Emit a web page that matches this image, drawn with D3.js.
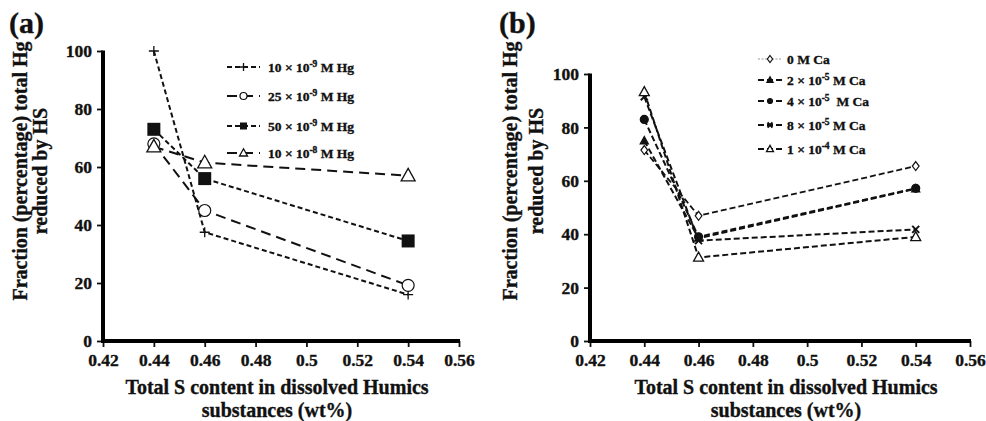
<!DOCTYPE html>
<html><head><meta charset="utf-8">
<script src="https://cdn.jsdelivr.net/npm/d3@7"></script>
<style>
body{margin:0;background:#fff;}
svg{display:block;font-family:"Liberation Serif","Times New Roman",serif;font-weight:bold;}
svg text{stroke:#111;stroke-width:0.35px;}
</style></head>
<body>
<svg id="chart" width="986" height="421"></svg>
<script>
// ---------- data ----------
const sContent = [0.44, 0.46, 0.54];
const xTicks = [0.42, 0.44, 0.46, 0.48, 0.50, 0.52, 0.54, 0.56];
const xTickLabels = ["0.42","0.44","0.46","0.48","0.5","0.52","0.54","0.56"];
const yTicks = [0, 20, 40, 60, 80, 100];

// panel (a): Hg concentrations
const hgLabels = [["10 × 10","-9"," M Hg"],["25 × 10","-9"," M Hg"],["50 × 10","-9"," M Hg"],["10 × 10","-8"," M Hg"]];
const hg10e9 = [100, 37.5, 16];
const hg25e9 = [68, 45, 19.2];
const hg50e9 = [73, 56, 34.5];
const hg10e8 = [67, 61.5, 57];

// panel (b): Ca concentrations
const caLabels = [["0 M Ca","",""],["2 × 10","-5"," M Ca"],["4 × 10","-5","  M Ca"],["8 × 10","-5"," M Ca"],["1 × 10","-4"," M Ca"]];
const ca0 = [71.5, 46.9, 65.5];
const ca2e5 = [75, 38.5, 57];
const ca4e5 = [83, 39, 57.2];
const ca8e5 = [91.5, 37.6, 41.8];
const ca1e4 = [93.3, 31.3, 39];

const svg = d3.select("#chart");

function drawMarker(g, m, cx, cy){
  const s = g.append("g").attr("transform", `translate(${cx},${cy})`);
  if(m.kind === "plus"){
    const r = m.r;
    s.append("path").attr("d",`M${-r},0H${r}M0,${-r}V${r}`).attr("stroke","#111").attr("stroke-width",1.3).attr("fill","none");
  } else if(m.kind === "cross"){
    const r = m.r;
    s.append("path").attr("d",`M${-r},${-r}L${r},${r}M${-r},${r}L${r},${-r}`).attr("stroke","#111").attr("stroke-width",2).attr("fill","none");
  } else if(m.kind === "circle"){
    s.append("circle").attr("r",m.r).attr("fill",m.fill).attr("stroke","#111").attr("stroke-width",1.2);
  } else if(m.kind === "square"){
    s.append("rect").attr("x",-m.r).attr("y",-m.r).attr("width",2*m.r).attr("height",2*m.r).attr("fill","#111");
  } else if(m.kind === "triangle"){
    const r = m.r;
    s.append("path").attr("d",`M0,${-r*1.05}L${r},${r*0.75}L${-r},${r*0.75}Z`).attr("fill",m.fill).attr("stroke","#111").attr("stroke-width",1.3);
  } else if(m.kind === "diamond"){
    const r = m.r;
    s.append("path").attr("d",`M0,${-r}L${r*0.75},0L0,${r}L${-r*0.75},0Z`).attr("fill","#fff").attr("stroke","#111").attr("stroke-width",1.2);
  }
}

function drawPanel(cfg){
  const x = d3.scaleLinear().domain([0.42,0.56]).range([cfg.x0, cfg.x1]);
  const y = d3.scaleLinear().domain([0,100]).range([cfg.yb, cfg.yt]);
  const g = svg.append("g");

  // axes
  const xa = g.append("g").attr("transform",`translate(0,${cfg.yb})`)
    .call(d3.axisBottom(x).tickValues(xTicks).tickFormat((d,i)=>xTickLabels[i]).tickSize(6).tickSizeOuter(0).tickPadding(7));
  const ya = g.append("g").attr("transform",`translate(${cfg.x0},0)`)
    .call(d3.axisLeft(y).tickValues(yTicks).tickSize(6).tickSizeOuter(0).tickPadding(5));
  [xa, ya].forEach(a=>{
    a.select(".domain").remove();
    a.selectAll(".tick line").attr("stroke","#111").attr("stroke-width",1.8);
    a.selectAll(".tick text").attr("fill","#111").style("font-family","Liberation Serif").style("font-weight","bold").style("font-size","17.5px");
  });
  g.append("rect").attr("x",cfg.x0-2).attr("y",cfg.yb-2).attr("width",cfg.x1-cfg.x0+3).attr("height",4).attr("fill","#000");
  g.append("rect").attr("x",cfg.x0-2).attr("y",cfg.yt-0.5).attr("width",4).attr("height",cfg.yb-cfg.yt+2.5).attr("fill","#000");

  // series
  const line = d3.line().x((d,i)=>x(sContent[i])).y(d=>y(d));
  cfg.series.forEach(s=>{
    g.append("path").datum(s.values).attr("d",line).attr("fill","none")
      .attr("stroke","#111").attr("stroke-width",s.sw).attr("stroke-dasharray",s.dash);
  });
  cfg.series.forEach(s=>{
    s.values.forEach((v,i)=>drawMarker(g, s.marker, x(sContent[i]), y(v)));
  });

  // legend
  cfg.series.forEach((s,i)=>{
    const ly = cfg.legY[i];
    g.append("line").attr("x1",cfg.legX0).attr("x2",cfg.legX1).attr("y1",ly).attr("y2",ly)
      .attr("stroke", s.legColor || "#111").attr("stroke-width", s.legSw || s.sw).attr("stroke-dasharray", s.legDash || s.dash);
    drawMarker(g, s.legMarker, (cfg.legX0+cfg.legX1)/2, ly);
    const t = g.append("text").attr("x",cfg.legTx).attr("y",ly+4.5).style("font-size","13.5px").attr("fill","#111");
    t.append("tspan").text(s.label[0]);
    if(s.label[1]){
      t.append("tspan").attr("dy",-5).style("font-size","9.5px").text(s.label[1]);
      t.append("tspan").attr("dy",5).style("white-space","pre").text(s.label[2]);
    }
  });

  // axis titles
  const xt = g.append("text").attr("text-anchor","middle").style("font-size","20px").attr("fill","#111");
  xt.append("tspan").attr("x",(cfg.x0+cfg.x1)/2+cfg.xtShift).attr("y",394).text("Total S content in dissolved Humics");
  xt.append("tspan").attr("x",(cfg.x0+cfg.x1)/2+cfg.xtShift).attr("y",417).text("substances (wt%)");
  g.append("text").attr("text-anchor","middle").style("font-size","20px").attr("fill","#111")
    .attr("transform",`translate(${cfg.ytX1},${cfg.ytY}) rotate(-90)`).text("Fraction (percentage) total Hg");
  g.append("text").attr("text-anchor","middle").style("font-size","20px").attr("fill","#111")
    .attr("transform",`translate(${cfg.ytX2},${cfg.ytY}) rotate(-90)`).text("reduced by HS");

  // panel label
  g.append("text").attr("x",cfg.labX).attr("y",33).style("font-size","30px").attr("fill","#111").text(cfg.label);
}

drawPanel({
  label:"(a)", labX:9,
  x0:103, x1:459, yb:341, yt:51,
  xtShift:-4, ytX1:27, ytX2:47, ytY:171,
  legX0:227, legX1:260, legTx:268, legY:[67,96,126,153],
  series:[
    {label:hgLabels[0], values:hg10e9, dash:"5,3", sw:2, marker:{kind:"plus",r:5}, legMarker:{kind:"plus",r:4}},
    {label:hgLabels[1], values:hg25e9, dash:"10,6", sw:2, marker:{kind:"circle",r:6,fill:"#fff"}, legMarker:{kind:"circle",r:3.5,fill:"#fff"}},
    {label:hgLabels[2], values:hg50e9, dash:"5,3", sw:2, marker:{kind:"square",r:6.5}, legMarker:{kind:"square",r:3.5}},
    {label:hgLabels[3], values:hg10e8, dash:"10,6", sw:2, marker:{kind:"triangle",r:7,fill:"#fff"}, legMarker:{kind:"triangle",r:4,fill:"#fff"}}
  ]
});

drawPanel({
  label:"(b)", labX:499,
  x0:590, x1:970, yb:341, yt:74,
  xtShift:6, ytX1:517, ytX2:543, ytY:171,
  legX0:758, legX1:782, legTx:787, legY:[59,80,101,125,149],
  series:[
    {label:caLabels[0], values:ca0, dash:"6,3", sw:1.8, legColor:"#999", legSw:1, legDash:"2,1.5", marker:{kind:"diamond",r:4.5}, legMarker:{kind:"diamond",r:3.5}},
    {label:caLabels[1], values:ca2e5, dash:"6,3", sw:2, marker:{kind:"triangle",r:4,fill:"#111"}, legMarker:{kind:"triangle",r:3,fill:"#111"}},
    {label:caLabels[2], values:ca4e5, dash:"6,3", sw:2, marker:{kind:"circle",r:4,fill:"#111"}, legMarker:{kind:"circle",r:2.5,fill:"#111"}},
    {label:caLabels[3], values:ca8e5, dash:"6,3", sw:2, marker:{kind:"cross",r:3.5}, legMarker:{kind:"cross",r:2.5}},
    {label:caLabels[4], values:ca1e4, dash:"6,3", sw:2, marker:{kind:"triangle",r:5,fill:"#fff"}, legMarker:{kind:"triangle",r:3.5,fill:"#fff"}}
  ]
});
</script>
</body></html>
